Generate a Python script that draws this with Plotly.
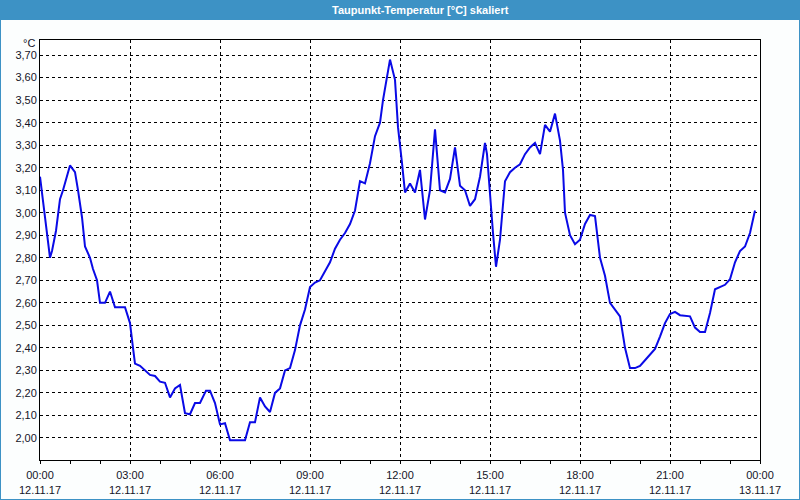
import plotly.graph_objects as go

# ---- data ----
times = ["00:00","00:20","00:24","00:32","00:40","00:46","01:00","01:10","01:16","01:24","01:30",
         "01:40","01:46","01:54","02:00","02:10","02:20","02:30","02:50","03:00","03:06","03:10",
         "03:20","03:40","03:50","04:00","04:10","04:20","04:30","04:40","04:50","05:00","05:10",
         "05:20","05:32","05:40","05:50","06:00","06:10","06:20","06:50","07:00","07:10","07:20",
         "07:30","07:40","07:50","08:00","08:10","08:20","08:30","08:40","08:50","09:00","09:10",
         "09:20","09:30","09:40","09:50","10:00","10:10","10:20","10:30","10:40","10:50","11:00",
         "11:10","11:20","11:26","11:40","11:50","11:56","12:04","12:10","12:20","12:30","12:40",
         "12:44","12:50","13:00","13:10","13:20","13:30","13:40","13:50","14:00","14:10","14:20",
         "14:30","14:40","14:50","14:54","15:00","15:06","15:12","15:20","15:30","15:40","15:50",
         "16:00","16:10","16:20","16:30","16:40","16:50","17:00","17:10","17:20","17:26","17:30",
         "17:40","17:50","18:00","18:10","18:20","18:30","18:40","18:50","19:00","19:10","19:20",
         "19:30","19:40","19:50","20:00","20:14","20:30","20:40","20:50","21:00","21:10","21:20",
         "21:40","21:50","22:00","22:10","22:20","22:30","22:40","22:50","23:00","23:10","23:20",
         "23:30","23:40","23:50"]
dewpoint = [3.16,2.80,2.83,2.92,3.06,3.10,3.21,3.18,3.10,2.98,2.85,
            2.80,2.75,2.70,2.60,2.60,2.65,2.58,2.58,2.51,2.40,2.33,
            2.32,2.28,2.275,2.25,2.245,2.18,2.22,2.235,2.11,2.105,2.155,
            2.155,2.21,2.21,2.155,2.06,2.065,1.99,1.99,2.07,2.07,2.18,
            2.14,2.115,2.20,2.22,2.30,2.31,2.39,2.50,2.57,2.67,2.69,
            2.70,2.74,2.78,2.84,2.88,2.91,2.95,3.01,3.14,3.13,3.22,
            3.34,3.40,3.50,3.68,3.59,3.38,3.22,3.09,3.13,3.09,3.19,
            3.10,2.97,3.10,3.37,3.10,3.09,3.15,3.29,3.12,3.10,3.03,
            3.06,3.16,3.31,3.26,3.06,2.91,2.76,2.88,3.14,3.18,3.20,
            3.215,3.26,3.29,3.31,3.26,3.39,3.36,3.44,3.32,3.19,3.00,
            2.90,2.86,2.88,2.95,2.99,2.985,2.80,2.72,2.60,2.57,2.54,
            2.40,2.31,2.31,2.32,2.355,2.395,2.45,2.51,2.55,2.56,2.545,
            2.54,2.49,2.47,2.47,2.555,2.66,2.67,2.68,2.705,2.78,2.83,
            2.85,2.91,3.01]
tick_times = ["2017-11-12 00:00","2017-11-12 03:00","2017-11-12 06:00","2017-11-12 09:00",
              "2017-11-12 12:00","2017-11-12 15:00","2017-11-12 18:00","2017-11-12 21:00",
              "2017-11-13 00:00"]
tick_labels = ["00:00<br>12.11.17","03:00<br>12.11.17","06:00<br>12.11.17","09:00<br>12.11.17",
               "12:00<br>12.11.17","15:00<br>12.11.17","18:00<br>12.11.17","21:00<br>12.11.17",
               "00:00<br>13.11.17"]
y_ticks = [2.0,2.1,2.2,2.3,2.4,2.5,2.6,2.7,2.8,2.9,3.0,3.1,3.2,3.3,3.4,3.5,3.6,3.7]
title_text = "Taupunkt-Temperatur [°C] skaliert"
unit_text = "°C"

x_vals = ["2017-11-12 " + t for t in times]

W, H = 800, 500
ML, MR, MT, MB = 40, 40, 40, 40
PW, PH = W - ML - MR, H - MT - MB
BLUE = "#3d92c5"
TXT = "#141428"
FONT = "Liberation Sans"

fig = go.Figure()
fig.add_trace(go.Scatter(x=x_vals, y=dewpoint, mode="lines",
                         line=dict(color="#0a0ae6", width=2), hoverinfo="skip"))

fig.update_layout(
    width=W, height=H,
    margin=dict(l=ML, r=MR, t=MT, b=MB, autoexpand=False),
    paper_bgcolor="#fcfefe", plot_bgcolor="white",
    showlegend=False,
    separators=",.",
    font=dict(family=FONT, size=11, color=TXT),
    xaxis=dict(type="date", range=["2017-11-12 00:00", "2017-11-13 00:00"],
               tickvals=tick_times, ticktext=tick_labels, automargin=False,
               showgrid=True, gridcolor="black", griddash="3px,3px", gridwidth=1,
               showline=True, linecolor="black", linewidth=1, mirror=True,
               ticks="outside", ticklen=3, tickcolor="black", ticklabelstandoff=2,
               minor=dict(dtick=3600000, ticks="outside", ticklen=3, tickcolor="black", showgrid=False),
               tickfont=dict(family=FONT, size=11, color=TXT), zeroline=False),
    yaxis=dict(range=[1.902, 3.767], tickvals=y_ticks, tickformat=".2f", automargin=False,
               showgrid=True, gridcolor="black", griddash="3px,3px", gridwidth=1,
               showline=True, linecolor="black", linewidth=1, mirror=True,
               ticks="", tickfont=dict(family=FONT, size=11, color=TXT), zeroline=False),
)

# title bar and outer border
fig.add_shape(type="rect", xref="paper", yref="paper",
              x0=-ML / PW, x1=1 + MR / PW, y0=1 + (MT - 20) / PH, y1=1 + MT / PH,
              fillcolor=BLUE, line=dict(width=0), layer="above")
fig.add_shape(type="rect", xref="paper", yref="paper",
              x0=-ML / PW, x1=1 + MR / PW, y0=-MB / PH, y1=1 + MT / PH,
              fillcolor="rgba(0,0,0,0)", line=dict(color=BLUE, width=2), layer="above")

fig.add_annotation(text="<b>" + title_text + "</b>", xref="paper", yref="paper",
                   x=(420 - ML) / PW, y=1 + (MT - 10) / PH, xanchor="center", yanchor="middle",
                   showarrow=False, font=dict(family=FONT, size=11, color="white"))
fig.add_annotation(text=unit_text, xref="paper", yref="paper",
                   x=-3 / PW, y=1 + (MT - 43) / PH, xanchor="right", yanchor="middle",
                   showarrow=False, font=dict(family=FONT, size=11, color=TXT))

fig.write_html("out.html")
